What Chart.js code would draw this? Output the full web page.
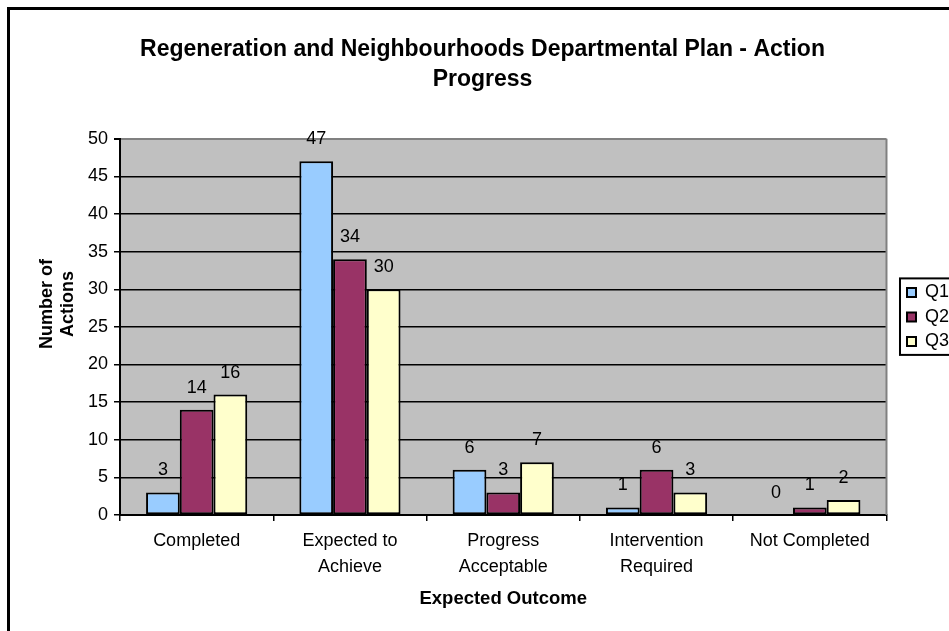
<!DOCTYPE html>
<html>
<head>
<meta charset="utf-8">
<script src="https://cdn.jsdelivr.net/npm/chart.js@4/dist/chart.umd.min.js"></script>
<style>
  html, body { margin: 0; padding: 0; background: #fff; overflow: hidden; }
  #frame {
    position: absolute; left: 7px; top: 7px;
    width: 1100px; height: 800px;
    border: 3px solid #000;
  }
  #actionchart { position: absolute; left: 0; top: 0; }
</style>
</head>
<body>
<div id="frame">
  <canvas id="actionchart" width="1000" height="640"></canvas>
</div>
<script>
// Aktionen je Ergebnis-Kategorie und Quartal
const categories = ['Completed', ['Expected to', 'Achieve'], ['Progress', 'Acceptable'], ['Intervention', 'Required'], 'Not Completed'];
const q1Values = [3, 47, 6, 1, 0];
const q2Values = [14, 34, 3, 6, 1];
const q3Values = [16, 30, 7, 3, 2];
const quarterLabels = ['Q1', 'Q2', 'Q3'];
const yTicks = [0, 5, 10, 15, 20, 25, 30, 35, 40, 45, 50];

const legendPadding = 6.5;

Chart.defaults.font.family = '"Liberation Sans", Arial, sans-serif';
Chart.defaults.font.size = 18;
Chart.defaults.color = '#000';

// grauer Hintergrund der Zeichenfläche, grauer Rand rechts
const plotBackground = {
  id: 'plotBackground',
  beforeDraw(chart) {
    const { ctx, chartArea: a } = chart;
    ctx.save();
    ctx.fillStyle = '#c0c0c0';
    ctx.fillRect(a.left, a.top, a.right - a.left, a.bottom - a.top);
    ctx.restore();
  },
  afterDatasetsDraw(chart) {
    const { ctx, chartArea: a } = chart;
    ctx.save();
    ctx.strokeStyle = '#808080';
    ctx.lineWidth = 2;
    ctx.beginPath();
    ctx.moveTo(a.right, a.top);
    ctx.lineTo(a.right, a.bottom);
    ctx.stroke();
    ctx.restore();
  }
};

// Zahlen über den Balken
const valueLabels = {
  id: 'valueLabels',
  afterDatasetsDraw(chart) {
    const ctx = chart.ctx;
    ctx.save();
    ctx.font = '18px "Liberation Sans", Arial, sans-serif';
    ctx.fillStyle = '#000';
    ctx.textAlign = 'center';
    ctx.textBaseline = 'middle';
    chart.data.datasets.forEach((ds, i) => {
      chart.getDatasetMeta(i).data.forEach((bar, j) => {
        ctx.fillText(String(ds.data[j]), bar.x, bar.y - 22);
      });
    });
    ctx.restore();
  }
};

// y-Achsentitel zweizeilig, gedreht
const yTitle = {
  id: 'yTitle',
  afterDraw(chart) {
    const ctx = chart.ctx;
    ctx.save();
    ctx.font = 'bold 18px "Liberation Sans", Arial, sans-serif';
    ctx.fillStyle = '#000';
    ctx.textAlign = 'center';
    ctx.textBaseline = 'middle';
    ctx.translate(37, 294);
    ctx.rotate(-Math.PI / 2);
    ctx.fillText('Number of', 0, 0);
    ctx.fillText('Actions', 0, 21);
    ctx.restore();
  }
};

// Legende etwas verschieben und mit Rahmen versehen
const legendFrame = {
  id: 'legendFrame',
  afterLayout(chart) {
    const lg = chart.legend;
    lg.left += 14; lg.right += 14;
    lg.top -= 10; lg.bottom -= 10;
  },
  afterDraw(chart) {
    const lg = chart.legend;
    const colH = lg.columnSizes[0].height;
    const startY = (lg.top + legendPadding + lg.bottom - colH) / 2;
    const ctx = chart.ctx;
    ctx.save();
    ctx.strokeStyle = '#000';
    ctx.lineWidth = 2;
    ctx.strokeRect(lg.left + legendPadding - 7, startY - 5, 80, colH + 3);
    ctx.restore();
  }
};

const ctx = document.getElementById('actionchart').getContext('2d');

new Chart(ctx, {
  type: 'bar',
  data: {
    labels: categories,
    datasets: [
      { label: quarterLabels[0], data: q1Values, backgroundColor: '#99ccff' },
      { label: quarterLabels[1], data: q2Values, backgroundColor: '#993366' },
      { label: quarterLabels[2], data: q3Values, backgroundColor: '#ffffcc' }
    ]
  },
  options: {
    responsive: false,
    animation: false,
    layout: { padding: { left: 10, right: 65, top: 0, bottom: 0 } },
    datasets: {
      bar: {
        borderColor: '#000',
        borderWidth: 2,
        borderSkipped: false,
        categoryPercentage: 0.66,
        barPercentage: 1
      }
    },
    scales: {
      x: {
        afterFit: (s) => { s.height = 135; },
        grid: {
          drawOnChartArea: false,
          color: '#000',
          lineWidth: 1.5,
          tickLength: 6
        },
        border: { color: '#000', width: 2 },
        ticks: {
          maxRotation: 0,
          autoSkip: false,
          padding: 7,
          font: { size: 18, lineHeight: 1.45 }
        },
        title: {
          display: true,
          text: 'Expected Outcome',
          font: { size: 18.5, weight: 'bold', lineHeight: 1.2 },
          padding: { top: 0, bottom: 40 }
        }
      },
      y: {
        min: 0,
        max: 50,
        afterFit: (s) => { s.width = 100; },
        afterBuildTicks: (s) => { s.ticks = yTicks.map(v => ({ value: v })); },
        grid: {
          color: (c) => c.tick && c.tick.value === 50 ? '#808080' : '#000',
          lineWidth: (c) => c.tick && c.tick.value === 50 ? 2 : 1.5,
          tickColor: '#000',
          tickLength: 6
        },
        border: { color: '#000', width: 2 },
        ticks: { padding: 6, font: { size: 18 } }
      }
    },
    plugins: {
      title: {
        display: true,
        text: ['Regeneration and Neighbourhoods Departmental Plan - Action', 'Progress'],
        font: { size: 23, weight: 'bold', lineHeight: 1.3 },
        padding: { top: 25, bottom: 44 }
      },
      legend: {
        position: 'right',
        fullSize: false,
        labels: {
          boxWidth: 9,
          boxHeight: 9,
          padding: legendPadding,
          font: { size: 18 }
        }
      },
      tooltip: { enabled: false }
    }
  },
  plugins: [plotBackground, valueLabels, yTitle, legendFrame]
});
</script>
</body>
</html>
